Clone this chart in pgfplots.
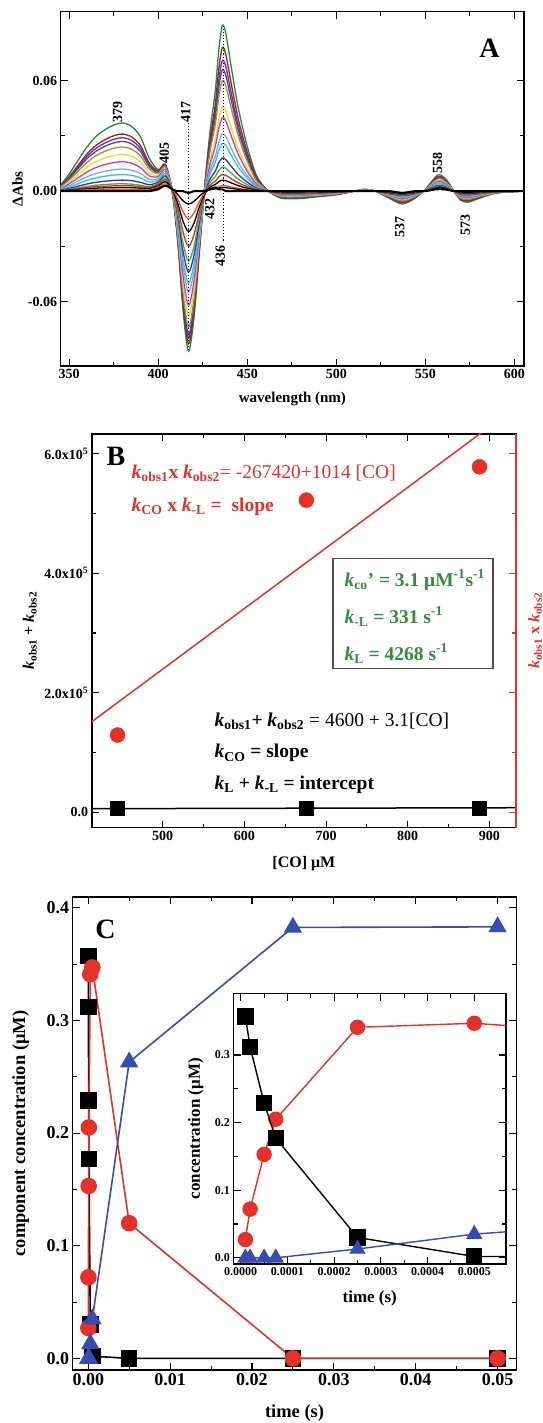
\documentclass[border=0pt]{standalone}
\usepackage{fontspec}
\setmainfont{Liberation Serif}
\usepackage{pgfplots}
\pgfplotsset{compat=1.18}
\usepackage{pgfplotstable}

\definecolor{cA1}{RGB}{34,139,60}
\definecolor{cA2}{RGB}{160,30,30}
\definecolor{cA3}{RGB}{128,40,150}
\definecolor{cA4}{RGB}{80,60,180}
\definecolor{cA5}{RGB}{150,150,30}
\definecolor{cA6}{RGB}{240,220,40}
\definecolor{cA7}{RGB}{190,60,200}
\definecolor{cA8}{RGB}{120,170,230}
\definecolor{cA9}{RGB}{40,200,220}
\definecolor{cA10}{RGB}{50,50,170}
\definecolor{cA11}{RGB}{60,180,60}
\definecolor{cA12}{RGB}{230,40,30}
\definecolor{cA14}{RGB}{240,80,30}
\definecolor{bred}{RGB}{228,50,40}
\definecolor{tgreen}{RGB}{50,140,60}
\definecolor{tblue}{RGB}{55,75,180}

\newcommand{\kk}[1]{\textbf{\textit{k}}\textsubscript{\textbf{#1}}}

\pgfplotstableread{
w c1 c2 c3 c4 c5 c6 c7 c8 c9 c10 c11 c12 c13 c14 c15 c16
345 0.0030 0.0025 0.0023 0.0022 0.0019 0.0016 0.0013 0.0010 0.0007 0.0005 0.0003 0.0002 0.0002 0.0001 0 0
350 0.0093 0.0078 0.0073 0.0068 0.0060 0.0050 0.0040 0.0030 0.0023 0.0015 0.0010 0.0008 0.0005 0.0003 0 0
355 0.0167 0.0140 0.0130 0.0122 0.0108 0.0090 0.0072 0.0054 0.0040 0.0027 0.0018 0.0014 0.0009 0.0005 0 0
360 0.0240 0.0202 0.0189 0.0176 0.0156 0.0130 0.0104 0.0078 0.0059 0.0039 0.0026 0.0020 0.0013 0.0007 0 0
365 0.0296 0.0248 0.0232 0.0216 0.0192 0.0160 0.0128 0.0096 0.0072 0.0048 0.0032 0.0024 0.0016 0.0008 0 0
370 0.0333 0.0279 0.0261 0.0243 0.0216 0.0180 0.0144 0.0108 0.0081 0.0054 0.0036 0.0027 0.0018 0.0009 0 0
375 0.0359 0.0301 0.0281 0.0262 0.0233 0.0194 0.0155 0.0116 0.0087 0.0058 0.0039 0.0029 0.0019 0.0010 0 0
380 0.0370 0.0310 0.0290 0.0270 0.0240 0.0200 0.0160 0.0120 0.0090 0.0060 0.0040 0.0030 0.0020 0.0010 0 0
385 0.0352 0.0295 0.0276 0.0257 0.0228 0.0190 0.0152 0.0114 0.0086 0.0057 0.0038 0.0029 0.0019 0.0010 0 0
390 0.0296 0.0248 0.0232 0.0216 0.0192 0.0160 0.0128 0.0096 0.0072 0.0048 0.0032 0.0024 0.0016 0.0008 0 0
395 0.0179 0.0153 0.0143 0.0134 0.0120 0.0101 0.0083 0.0064 0.0050 0.0035 0.0025 0.0020 0.0014 0.0009 0.0003 0
400 0.0116 0.0112 0.0104 0.0101 0.0096 0.0085 0.0079 0.0068 0.0059 0.0049 0.0041 0.0035 0.0028 0.0022 0.0015 0.0010
404 0.0139 0.0146 0.0135 0.0134 0.0132 0.0120 0.0118 0.0106 0.0095 0.0083 0.0072 0.0062 0.0051 0.0040 0.0030 0.0030
408 -0.0015 -0.0005 -0.0008 -0.0006 -0.0002 -0.0002 0.0004 0.0005 0.0004 0.0004 0.0004 0.0006 0.0008 0.0009 0.0011 0.0010
411 -0.0281 -0.0265 -0.0256 -0.0249 -0.0235 -0.0216 -0.0195 -0.0173 -0.0157 -0.0138 -0.0119 -0.0093 -0.0067 -0.0045 -0.0019 0
414 -0.0653 -0.0623 -0.0600 -0.0585 -0.0555 -0.0510 -0.0465 -0.0413 -0.0375 -0.0330 -0.0285 -0.0225 -0.0165 -0.0113 -0.0053 0
417 -0.0870 -0.0830 -0.0800 -0.0780 -0.0740 -0.0680 -0.0620 -0.0550 -0.0500 -0.0440 -0.0380 -0.0300 -0.0220 -0.0150 -0.0070 -0.0010
420 -0.0696 -0.0664 -0.0640 -0.0624 -0.0592 -0.0544 -0.0496 -0.0440 -0.0400 -0.0352 -0.0304 -0.0240 -0.0176 -0.0120 -0.0056 0
423 -0.0348 -0.0332 -0.0320 -0.0312 -0.0296 -0.0272 -0.0248 -0.0220 -0.0200 -0.0176 -0.0152 -0.0120 -0.0088 -0.0060 -0.0028 0
426 0.0021 0.0011 0.0005 0.0001 -0.0002 -0.0013 -0.0014 -0.0018 -0.0019 -0.0022 -0.0022 -0.0019 -0.0015 -0.0011 -0.0005 0
429 0.0315 0.0273 0.0249 0.0231 0.0210 0.0161 0.0140 0.0109 0.0091 0.0063 0.0046 0.0032 0.0021 0.0011 0.0007 0.0010
432 0.0540 0.0468 0.0426 0.0396 0.0360 0.0276 0.0240 0.0186 0.0156 0.0108 0.0078 0.0054 0.0036 0.0018 0.0012 0.0020
434 0.0765 0.0663 0.0604 0.0561 0.0510 0.0391 0.0340 0.0264 0.0221 0.0153 0.0111 0.0077 0.0051 0.0026 0.0017 0.0010
436 0.0900 0.0780 0.0710 0.0660 0.0600 0.0460 0.0400 0.0310 0.0260 0.0180 0.0130 0.0090 0.0060 0.0030 0.0020 0.0010
438 0.0855 0.0741 0.0675 0.0627 0.0570 0.0437 0.0380 0.0295 0.0247 0.0171 0.0124 0.0086 0.0057 0.0029 0.0019 0
441 0.0675 0.0585 0.0533 0.0495 0.0450 0.0345 0.0300 0.0233 0.0195 0.0135 0.0098 0.0068 0.0045 0.0023 0.0015 0
445 0.0450 0.0390 0.0355 0.0330 0.0300 0.0230 0.0200 0.0155 0.0130 0.0090 0.0065 0.0045 0.0030 0.0015 0.0010 0
450 0.0243 0.0211 0.0192 0.0178 0.0162 0.0124 0.0108 0.0084 0.0070 0.0049 0.0035 0.0024 0.0016 0.0008 0.0005 0
455 0.0090 0.0078 0.0071 0.0066 0.0060 0.0046 0.0040 0.0031 0.0026 0.0018 0.0013 0.0009 0.0006 0.0003 0.0002 0
460 0.0018 0.0016 0.0014 0.0013 0.0012 0.0009 0.0008 0.0006 0.0005 0.0004 0.0003 0.0002 0.0001 0.0001 0 0
465 -0.0020 -0.0018 -0.0017 -0.0016 -0.0015 -0.0013 -0.0012 -0.0010 -0.0009 -0.0007 -0.0006 -0.0005 -0.0004 -0.0003 -0.0002 0
470 -0.0040 -0.0036 -0.0034 -0.0032 -0.0030 -0.0026 -0.0024 -0.0020 -0.0018 -0.0014 -0.0012 -0.0010 -0.0008 -0.0006 -0.0004 0
480 -0.0040 -0.0036 -0.0034 -0.0032 -0.0030 -0.0026 -0.0024 -0.0020 -0.0018 -0.0014 -0.0012 -0.0010 -0.0008 -0.0006 -0.0004 0
490 -0.0030 -0.0027 -0.0026 -0.0024 -0.0023 -0.0020 -0.0018 -0.0015 -0.0014 -0.0011 -0.0009 -0.0008 -0.0006 -0.0005 -0.0003 0
500 -0.0020 -0.0018 -0.0017 -0.0016 -0.0015 -0.0013 -0.0012 -0.0010 -0.0009 -0.0007 -0.0006 -0.0005 -0.0004 -0.0003 -0.0002 0
510 0 0 0 0 0 0 0 0 0 0 0 0 0 0 0 0
516 0.0010 0.0009 0.0009 0.0008 0.0008 0.0007 0.0006 0.0005 0.0005 0.0004 0.0003 0.0003 0.0002 0.0002 0.0001 0
522 0 0 0 0 0 0 0 0 0 0 0 0 0 0 0 0
530 -0.0040 -0.0036 -0.0034 -0.0032 -0.0030 -0.0026 -0.0024 -0.0020 -0.0018 -0.0014 -0.0012 -0.0010 -0.0008 -0.0006 -0.0004 0
537 -0.0070 -0.0063 -0.0060 -0.0056 -0.0053 -0.0046 -0.0042 -0.0035 -0.0032 -0.0025 -0.0021 -0.0018 -0.0014 -0.0011 -0.0007 -0.0010
544 -0.0040 -0.0036 -0.0034 -0.0032 -0.0030 -0.0026 -0.0024 -0.0020 -0.0018 -0.0014 -0.0012 -0.0010 -0.0008 -0.0006 -0.0004 0
550 0.0010 0.0009 0.0009 0.0008 0.0008 0.0007 0.0006 0.0005 0.0005 0.0004 0.0003 0.0003 0.0002 0.0002 0.0001 0
555 0.0070 0.0063 0.0060 0.0056 0.0053 0.0046 0.0042 0.0035 0.0032 0.0025 0.0021 0.0018 0.0014 0.0011 0.0007 0.0010
558 0.0090 0.0081 0.0077 0.0072 0.0068 0.0059 0.0054 0.0045 0.0041 0.0032 0.0027 0.0023 0.0018 0.0014 0.0009 0.0020
562 0.0060 0.0054 0.0051 0.0048 0.0045 0.0039 0.0036 0.0030 0.0027 0.0021 0.0018 0.0015 0.0012 0.0009 0.0006 0.0010
566 0 0 0 0 0 0 0 0 0 0 0 0 0 0 0 0
570 -0.0050 -0.0045 -0.0043 -0.0040 -0.0038 -0.0033 -0.0030 -0.0025 -0.0023 -0.0018 -0.0015 -0.0013 -0.0010 -0.0008 -0.0005 0
574 -0.0060 -0.0054 -0.0051 -0.0048 -0.0045 -0.0039 -0.0036 -0.0030 -0.0027 -0.0021 -0.0018 -0.0015 -0.0012 -0.0009 -0.0006 0
580 -0.0040 -0.0036 -0.0034 -0.0032 -0.0030 -0.0026 -0.0024 -0.0020 -0.0018 -0.0014 -0.0012 -0.0010 -0.0008 -0.0006 -0.0004 0
590 -0.0010 -0.0009 -0.0009 -0.0008 -0.0008 -0.0007 -0.0006 -0.0005 -0.0005 -0.0004 -0.0003 -0.0003 -0.0002 -0.0002 -0.0001 0
605 0 0 0 0 0 0 0 0 0 0 0 0 0 0 0 0
}\spectra

\pgfplotsset{
  every axis/.append style={
    scale only axis, anchor=north west,
    axis line style={line width=1.6pt},
    every tick/.style={line width=1.1pt, black},
    major tick length=7pt, minor tick length=4pt,
    scaled x ticks=false, scaled y ticks=false,
    /pgf/number format/assume math mode=true,
  },
}

\begin{document}
\begin{tikzpicture}
\useasboundingbox (0pt,0pt) rectangle (542pt,-1423pt);

% ---------------- Panel A ----------------
\begin{axis}[
  at={(60.6pt,-11.7pt)}, width=463.6pt, height=354.3pt,
  xmin=345.2, xmax=605.5, ymin=-0.095, ymax=0.0975,
  xtick={350,400,450,500,550,600}, minor x tick num=1,
  ytick={-0.06,0,0.06}, yticklabels={-0.06,0.00,0.06}, minor y tick num=1,
  ticklabel style={font=\bfseries\fontsize{14}{14}\selectfont},
  xlabel={wavelength (nm)}, ylabel={ΔAbs},
  label style={font=\bfseries\fontsize{15}{15}\selectfont},
  xlabel style={at={(axis description cs:0.5,-0.093)}, anchor=center},
  ylabel style={at={(axis description cs:-0.093,0.5)}, anchor=center},
]
\addplot[cA1, line width=1.3pt, smooth] table[x=w, y=c1] {\spectra};
\addplot[cA2, line width=1.3pt, smooth] table[x=w, y=c2] {\spectra};
\addplot[cA3, line width=1.3pt, smooth] table[x=w, y=c3] {\spectra};
\addplot[cA4, line width=1.3pt, smooth] table[x=w, y=c4] {\spectra};
\addplot[cA5, line width=1.3pt, smooth] table[x=w, y=c5] {\spectra};
\addplot[cA6, line width=1.3pt, smooth] table[x=w, y=c6] {\spectra};
\addplot[cA7, line width=1.3pt, smooth] table[x=w, y=c7] {\spectra};
\addplot[cA8, line width=1.3pt, smooth] table[x=w, y=c8] {\spectra};
\addplot[cA9, line width=1.3pt, smooth] table[x=w, y=c9] {\spectra};
\addplot[cA10, line width=1.3pt, smooth] table[x=w, y=c10] {\spectra};
\addplot[cA11, line width=1.3pt, smooth] table[x=w, y=c11] {\spectra};
\addplot[cA12, line width=1.3pt, smooth] table[x=w, y=c12] {\spectra};
\addplot[black, line width=1.3pt, smooth] table[x=w, y=c13] {\spectra};
\addplot[cA14, line width=1.3pt, smooth] table[x=w, y=c14] {\spectra};
\addplot[black, line width=1.3pt, smooth] table[x=w, y=c15] {\spectra};
\addplot[black, line width=2pt, smooth] table[x=w, y=c16] {\spectra};
\draw[dotted, line width=1.1pt] (axis cs:417,0.037) -- (axis cs:417,-0.087);
\draw[dotted, line width=1.1pt] (axis cs:436.5,0.090) -- (axis cs:436.5,-0.027);
\begin{scope}[every node/.style={font=\bfseries\fontsize{14}{14}\selectfont, rotate=90, inner sep=0pt}]
\node at (axis cs:377.2,0.043) {379};
\node at (axis cs:403.4,0.0205) {405};
\node at (axis cs:415.5,0.043) {417};
\node at (axis cs:429,-0.0095) {432};
\node at (axis cs:434.9,-0.035) {436};
\node at (axis cs:535.6,-0.0195) {537};
\node at (axis cs:556.9,0.0155) {558};
\node at (axis cs:572.5,-0.0185) {573};
\end{scope}
\node[font=\bfseries\fontsize{28}{28}\selectfont] at (axis cs:586,0.0774) {A};
\end{axis}

% ---------------- Panel B ----------------
\begin{axis}[
  at={(91.7pt,-433.8pt)}, width=424.3pt, height=393.8pt,
  xmin=413, xmax=932.6, ymin=-25800, ymax=633500,
  xtick={500,600,700,800,900}, minor x tick num=1,
  ytick={0,200000,400000,600000}, minor y tick num=1,
  yticklabels={0.0, 2.0x10\textsuperscript{5}, 4.0x10\textsuperscript{5}, 6.0x10\textsuperscript{5}},
  ytick pos=left,
  ticklabel style={font=\bfseries\fontsize{14}{14}\selectfont},
  xlabel={[CO] μM}, ylabel={\kk{obs1} + \kk{obs2}},
  label style={font=\bfseries\fontsize{16}{16}\selectfont},
  xlabel style={at={(axis description cs:0.5,-0.092)}, anchor=center},
  ylabel style={at={(axis description cs:-0.146,0.5)}, anchor=center},
]
\addplot[bred, line width=1.5pt] coordinates {(413,151362) (932.6,678236)};
\addplot[bred, only marks, mark=*, mark size=7.5pt] coordinates {(444.7,129200) (675.9,522500) (887.9,578200)};
\addplot[black, line width=1.5pt] coordinates {(413,5880) (932.6,7491)};
\addplot[black, only marks, mark=square*, mark size=7pt] coordinates {(444.7,5980) (675.9,6700) (887.9,7350)};
\end{axis}
\begin{axis}[
  at={(91.7pt,-433.8pt)}, width=424.3pt, height=393.8pt,
  xmin=413, xmax=932.6, ymin=-25800, ymax=633500,
  axis x line=none, axis y line*=right,
  axis line style={bred, line width=1.6pt},
  ytick={0,200000,400000,600000}, minor y tick num=1,
  yticklabels={},
  every tick/.style={line width=1.1pt, bred},
  ylabel={\kk{obs1} x \kk{obs2}},
  ylabel style={at={(axis description cs:1.045,0.5)}, anchor=center, rotate=0, text=bred, font=\bfseries\fontsize{16}{16}\selectfont},
]
\addplot[draw=none] coordinates {(500,0)};
\end{axis}

\node[font=\bfseries\fontsize{28}{28}\selectfont] at (116pt,-456.7pt) {B};
\begin{scope}[every node/.style={anchor=west, inner sep=0pt, font=\fontsize{19.5}{20}\selectfont}]
\node[text=bred] at (131.5pt,-473pt) {\kk{obs1}\textbf{x} \kk{obs2}= -267420+1014 [CO]};
\node[text=bred] at (131.5pt,-506.7pt) {\kk{CO} \textbf{x} \kk{-L} \textbf{=} \ \textbf{slope}};
\node[text=black] at (214.5pt,-721.7pt) {\kk{obs1}\textbf{+} \kk{obs2} = 4600 + 3.1[CO]};
\node[text=black] at (214.5pt,-753.3pt) {\kk{CO} \textbf{= slope}};
\node[text=black] at (214.5pt,-785pt) {\kk{L} \textbf{+} \kk{-L} \textbf{= intercept}};
\node[text=tgreen] at (344.3pt,-580pt) {\textbf{\kk{co}' = 3.1 μM\textsuperscript{-1}s\textsuperscript{-1}}};
\node[text=tgreen] at (344.3pt,-616.7pt) {\textbf{\kk{-L} = 331 s\textsuperscript{-1}}};
\node[text=tgreen] at (344.3pt,-653.3pt) {\textbf{\kk{L} = 4268 s\textsuperscript{-1}}};
\end{scope}
\draw[line width=1.3pt, black!70] (333pt,-558.3pt) rectangle (493pt,-668.3pt);

% ---------------- Panel C ----------------
\begin{axis}[
  at={(72.7pt,-897pt)}, width=443.7pt, height=473pt,
  xmin=-0.0019, xmax=0.0523, ymin=-0.0103, ymax=0.4095,
  xtick={0,0.01,0.02,0.03,0.04,0.05}, xticklabels={0.00,0.01,0.02,0.03,0.04,0.05}, minor x tick num=1,
  ytick={0,0.1,0.2,0.3,0.4}, yticklabels={0.0,0.1,0.2,0.3,0.4}, minor y tick num=1,
  ticklabel style={font=\bfseries\fontsize{18}{18}\selectfont},
  xlabel={time (s)}, ylabel={component concentration (μM)},
  label style={font=\bfseries\fontsize{18.5}{18.5}\selectfont},
  xlabel style={at={(axis description cs:0.5,-0.091)}, anchor=center},
  ylabel style={at={(axis description cs:-0.117,0.5)}, anchor=center},
]
\addplot[black, line width=1.6pt, mark=square*, mark size=7.5pt] coordinates {
 (0.00001,0.357) (0.00002,0.312) (0.00005,0.229) (0.000075,0.177) (0.00025,0.03) (0.0005,0.002) (0.005,0.0) (0.025,0.0) (0.05,0.0)};
\addplot[bred, line width=1.6pt, mark=*, mark size=7.5pt] coordinates {
 (0.00001,0.027) (0.00002,0.072) (0.00005,0.153) (0.000075,0.205) (0.00025,0.341) (0.0005,0.347) (0.005,0.12) (0.025,0.0) (0.05,0.0)};
\addplot[tblue, line width=1.6pt, mark=triangle*, mark size=9pt] coordinates {
 (0.00001,0.0) (0.00002,0.0) (0.00005,0.0) (0.000075,0.0) (0.00025,0.013) (0.0005,0.035) (0.005,0.263) (0.025,0.3825) (0.05,0.383)};
\end{axis}
\node[font=\bfseries\fontsize{28}{28}\selectfont] at (105.5pt,-929.3pt) {C};

% inset
\begin{axis}[
  at={(233.5pt,-993.5pt)}, width=272.5pt, height=270.5pt,
  axis background/.style={fill=white},
  xmin=-0.0000155, xmax=0.000568, ymin=-0.0092, ymax=0.391,
  xtick={0,0.0001,0.0002,0.0003,0.0004,0.0005},
  xticklabels={0.0000,0.0001,0.0002,0.0003,0.0004,0.0005},
  minor x tick num=1,
  ytick={0,0.1,0.2,0.3}, yticklabels={0.0,0.1,0.2,0.3}, minor y tick num=1,
  clip marker paths=true,
  ticklabel style={font=\bfseries\fontsize{12}{12}\selectfont},
  xlabel={time (s)}, ylabel={concentration (μM)},
  label style={font=\bfseries\fontsize{17}{17}\selectfont},
  xlabel style={at={(axis description cs:0.5,-0.126)}, anchor=center},
  ylabel style={at={(axis description cs:-0.138,0.5)}, anchor=center},
]
\addplot[bred, line width=1.4pt, mark=*, mark size=7pt] coordinates {
 (0.00001,0.027) (0.00002,0.072) (0.00005,0.153) (0.000075,0.205) (0.00025,0.341) (0.0005,0.347) (0.005,0.12)};
\addplot[black, line width=1.4pt, mark=square*, mark size=7.5pt] coordinates {
 (0.00001,0.357) (0.00002,0.312) (0.00005,0.229) (0.000075,0.177) (0.00025,0.03) (0.0005,0.002) (0.005,0.0)};
\addplot[tblue, line width=1.4pt, mark=triangle*, mark size=8pt] coordinates {
 (0.00001,0.0) (0.00002,0.0) (0.00005,0.0) (0.000075,0.0) (0.00025,0.013) (0.0005,0.035) (0.005,0.263)};
\end{axis}
\end{tikzpicture}
\end{document}
